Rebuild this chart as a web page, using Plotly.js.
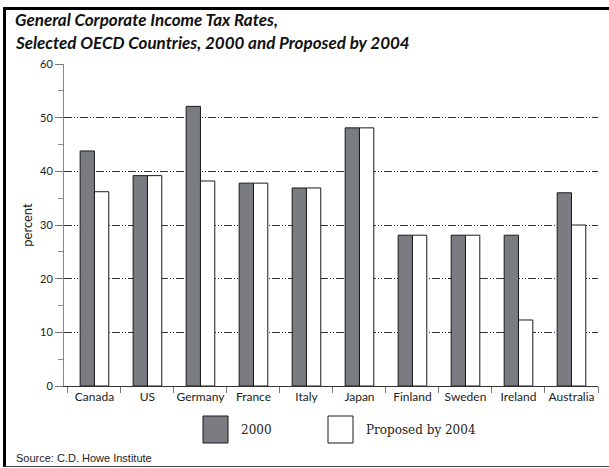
<!DOCTYPE html>
<html>
<head>
<meta charset="utf-8">
<script src="https://cdn.plot.ly/plotly-3.0.1.min.js"></script>
<style>
  html, body { margin:0; padding:0; background:#fff; }
  #wrap { position:relative; width:609px; height:468px; overflow:hidden; }
  #chart { position:absolute; left:0; top:0; width:609px; height:468px; }
  #frame { position:absolute; left:3px; top:7px; width:620px; height:456px;
           border-left:3px solid #000; border-top:3px solid #000; border-bottom:1px solid #444;
           pointer-events:none; }
</style>
</head>
<body>
<div id="wrap">
  <div id="chart"></div>
  <div id="frame"></div>
</div>
<script>
const countries = ["Canada","US","Germany","France","Italy","Japan","Finland","Sweden","Ireland","Australia"];
const rates2000 = [43.8, 39.2, 52.1, 37.8, 36.9, 48.1, 28.1, 28.1, 28.1, 36.0];
const ratesProposed2004 = [36.2, 39.2, 38.2, 37.8, 36.9, 48.1, 28.1, 28.1, 12.3, 30.0];
const seriesNames = ["2000", "Proposed by 2004"];
const yGridTicks = [0, 10, 20, 30, 40, 50];
const yTopTick = [60];
const yMinorTicks = [5, 15, 25, 35, 45, 55];
const titleLines = ["General Corporate Income Tax Rates,", "Selected OECD Countries, 2000 and Proposed by 2004"];

const tickFont = {family: "Lato, 'DejaVu Sans', sans-serif", size: 11, color: "#222"};
const xTickFont = {family: "Lato, 'DejaVu Sans', sans-serif", size: 12, color: "#222"};

const traces = [
  {type:"bar", name: seriesNames[0], x: countries, y: rates2000,
   marker:{color:"#7b7c81", line:{color:"#1a1a1a", width:1}}, showlegend:false},
  {type:"bar", name: seriesNames[1], x: countries, y: ratesProposed2004,
   marker:{color:"#ffffff", line:{color:"#1a1a1a", width:1}}, showlegend:false}
];

const L = 64, R = 598, T = 64, B = 386;
const px = v => (v - L) / (R - L);
const py = v => (B - v) / (B - T);

const layout = {
  width: 609, height: 468,
  margin: {l: L, r: 609 - R, t: T, b: 468 - B, pad: 0},
  paper_bgcolor: "#fff", plot_bgcolor: "#fff",
  barmode: "group", bargap: 0.46, bargroupgap: 0,
  xaxis: {
    type: "category", tickson: "boundaries", ticks: "outside", ticklen: 6, tickcolor: "#777",
    showline: true, linecolor: "#333", linewidth: 1, showgrid: false,
    tickangle: 0, tickfont: xTickFont, fixedrange: true
  },
  yaxis: {
    range: [0, 60], tickmode: "array", tickvals: yGridTicks, ticks: "outside", ticklen: 8, tickcolor: "#777",
    showline: true, linecolor: "#888", linewidth: 1,
    showgrid: true, gridcolor: "#333", gridwidth: 1, griddash: "8px,2px,1px,2px,1px,2px",
    zeroline: false,
    minor: {tickmode: "array", tickvals: yMinorTicks, ticks: "outside", ticklen: 5, tickcolor: "#888", showgrid: false},
    tickfont: tickFont,
    title: {text: "percent", font: {family: "Lato, 'DejaVu Sans', sans-serif", size: 13, color: "#222"}, standoff: 4},
    fixedrange: true
  },
  yaxis2: {
    overlaying: "y", side: "left", range: [0, 60], tickmode: "array", tickvals: yTopTick,
    ticks: "outside", ticklen: 8, tickcolor: "#777", showgrid: false, zeroline: false, showline: false,
    tickfont: tickFont, fixedrange: true
  },
  shapes: [
    {type:"rect", xref:"paper", yref:"paper", x0:px(203), x1:px(228), y0:py(443), y1:py(416),
     fillcolor:"#7b7c81", line:{color:"#1a1a1a", width:1}},
    {type:"rect", xref:"paper", yref:"paper", x0:px(328), x1:px(353), y0:py(443), y1:py(416),
     fillcolor:"#ffffff", line:{color:"#1a1a1a", width:1}}
  ],
  annotations: [
    {xref:"paper", yref:"paper", x:px(13), y:py(20), xanchor:"left", yanchor:"middle", showarrow:false,
     text: "<b><i>" + titleLines[0] + "</i></b>", font:{family:"Lato, 'DejaVu Sans', sans-serif", size:17, color:"#111"}},
    {xref:"paper", yref:"paper", x:px(13), y:py(43), xanchor:"left", yanchor:"middle", showarrow:false,
     text: "<b><i>" + titleLines[1] + "</i></b>", font:{family:"Lato, 'DejaVu Sans', sans-serif", size:17, color:"#111"}},
    {xref:"paper", yref:"paper", x:px(239), y:py(430), xanchor:"left", yanchor:"middle", showarrow:false,
     text: seriesNames[0], font:{family:"'DejaVu Serif', serif", size:12, color:"#222"}},
    {xref:"paper", yref:"paper", x:px(364), y:py(430), xanchor:"left", yanchor:"middle", showarrow:false,
     text: seriesNames[1], font:{family:"'DejaVu Serif', serif", size:12, color:"#222"}},
    {xref:"paper", yref:"paper", x:px(14), y:py(458), xanchor:"left", yanchor:"middle", showarrow:false,
     text: "Source: C.D. Howe Institute", font:{family:"'Liberation Sans', Arial, sans-serif", size:11, color:"#222"}}
  ]
};

traces.push({type:"scatter", x:[countries[0]], y:[0], yaxis:"y2", mode:"markers",
             marker:{opacity:0}, showlegend:false, hoverinfo:"skip"});

Plotly.newPlot("chart", traces, layout, {displayModeBar:false, staticPlot:true});
</script>
</body>
</html>
